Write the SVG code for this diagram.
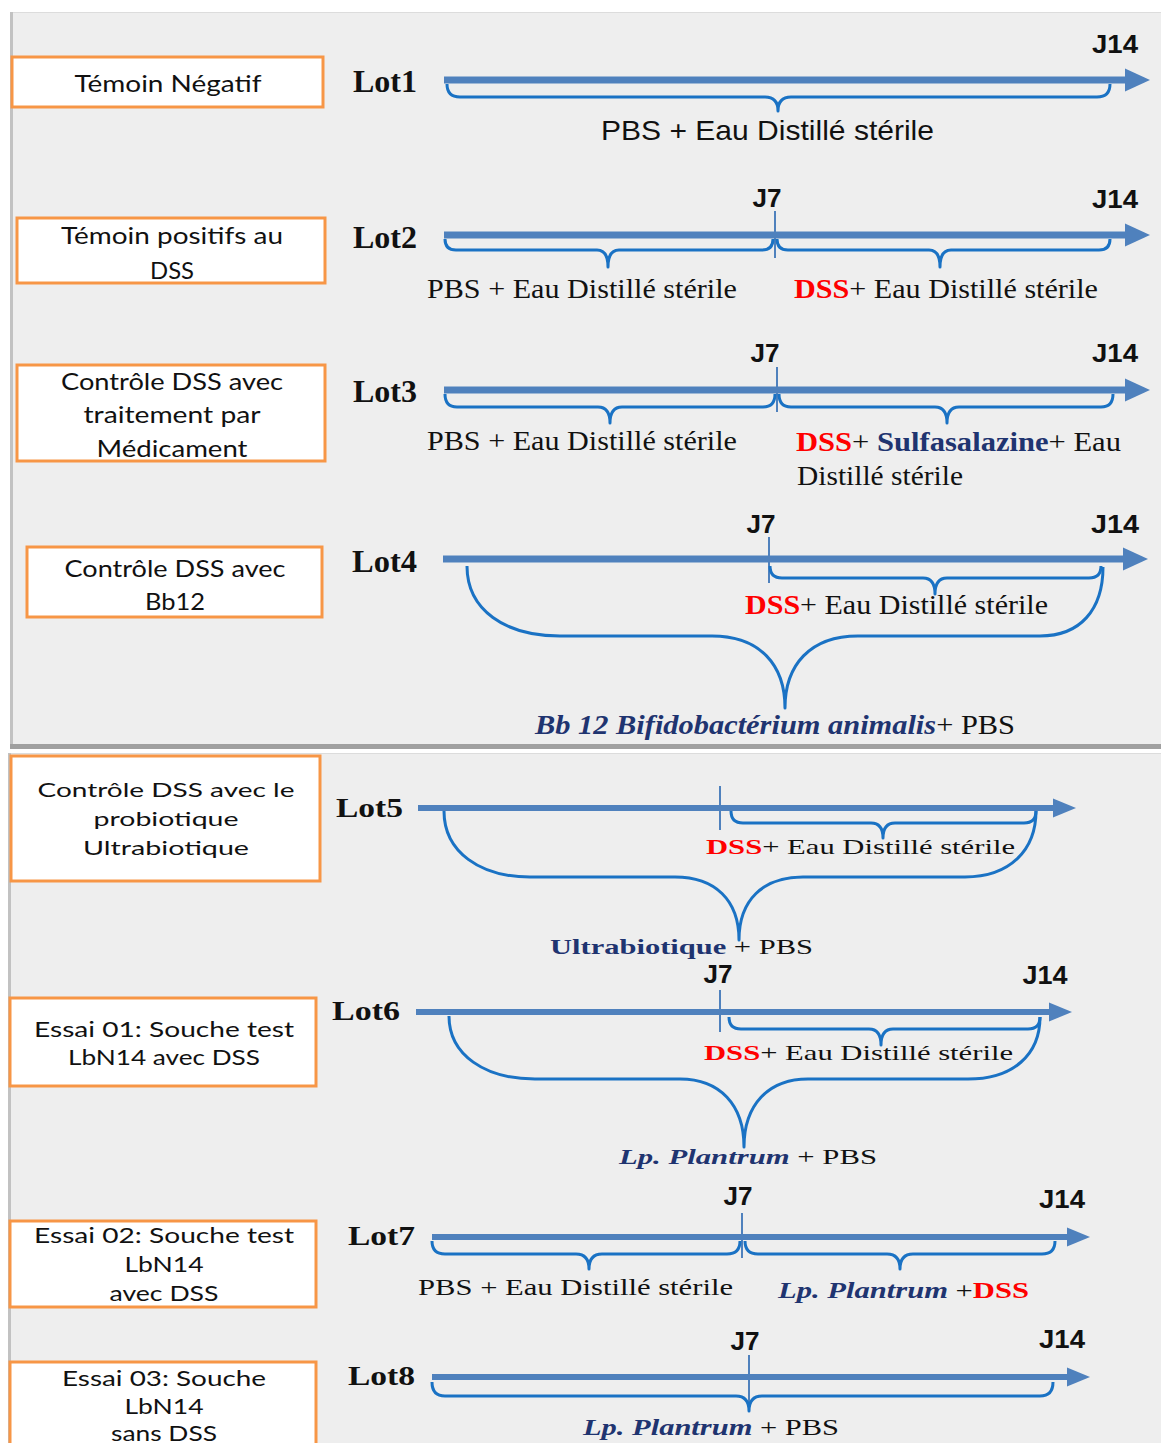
<svg xmlns="http://www.w3.org/2000/svg" width="1161" height="1443" viewBox="0 0 1161 1443">
<defs>
<style>
.box{fill:#ffffff;stroke:#f79646;stroke-width:3}
.bt{font-family:Lato,"Open Sans",sans-serif;fill:#111;text-anchor:middle}
.lot{font-family:"Liberation Serif","Times New Roman",serif;font-weight:bold;fill:#111}
.tm{font-family:"Liberation Serif","Times New Roman",serif;fill:#111}
.ar{font-family:"Liberation Sans",Arial,sans-serif;fill:#111}
.j{font-family:"Liberation Sans",Arial,sans-serif;font-weight:bold;fill:#111;font-size:25px;text-anchor:middle}
.red{fill:#ff0000;font-weight:bold}
.navy{fill:#1f3470;font-weight:bold}
.shaft{stroke:#4f81bd;stroke-width:7;fill:none}
.shaft2{stroke:#4f81bd;stroke-width:6;fill:none}
.tick{stroke:#4f81bd;stroke-width:2;fill:none}
.brace{stroke:#1a72c4;stroke-width:3;fill:none;stroke-linejoin:round}
</style>
<marker id="ah" markerUnits="userSpaceOnUse" markerWidth="26" markerHeight="24" refX="0" refY="12" orient="auto">
<path d="M0,0.5 L25,12 L0,23.5z" fill="#4f81bd"/>
</marker>
<marker id="ah2" markerUnits="userSpaceOnUse" markerWidth="24" markerHeight="20" refX="0" refY="10" orient="auto">
<path d="M0,0.5 L23,10 L0,19.5z" fill="#4f81bd"/>
</marker>
</defs>

<rect x="0" y="0" width="1161" height="1443" fill="#ffffff"/>
<!-- panels -->
<g id="panels">
<rect x="10" y="12" width="1151" height="736" fill="#eeeeee"/>
<line x1="10" y1="12.5" x2="1161" y2="12.5" stroke="#dcdcdc" stroke-width="1"/>
<line x1="11.5" y1="12" x2="11.5" y2="748" stroke="#c2c2c2" stroke-width="3"/>
<rect x="10" y="744" width="1151" height="5" fill="#a0a0a0"/>
<rect x="8" y="753" width="1153" height="690" fill="#eeeeee"/>
<line x1="8" y1="753.5" x2="1161" y2="753.5" stroke="#dcdcdc" stroke-width="1"/>
<line x1="9.5" y1="753" x2="9.5" y2="1443" stroke="#c2c2c2" stroke-width="3"/>
</g>

<!-- nodes -->
<g id="node-temoin-negatif">
<rect class="box" x="12" y="57" width="311" height="50"/>
<text class="bt" x="168" y="92" font-size="24" textLength="187" lengthAdjust="spacingAndGlyphs">Témoin Négatif</text>
</g>
<g id="node-temoin-positif">
<rect class="box" x="17" y="218" width="308" height="65"/>
<text class="bt" x="172" y="244" font-size="24" textLength="222" lengthAdjust="spacingAndGlyphs">Témoin positifs au</text>
<text class="bt" x="172" y="279" font-size="24" textLength="44" lengthAdjust="spacingAndGlyphs">DSS</text>
</g>
<g id="node-controle-medicament">
<rect class="box" x="17" y="365" width="308" height="96"/>
<text class="bt" x="172" y="390" font-size="24" textLength="222" lengthAdjust="spacingAndGlyphs">Contrôle DSS avec</text>
<text class="bt" x="172" y="423" font-size="24" textLength="177" lengthAdjust="spacingAndGlyphs">traitement par</text>
<text class="bt" x="172" y="457" font-size="24" textLength="151" lengthAdjust="spacingAndGlyphs">Médicament</text>
</g>
<g id="node-controle-bb12">
<rect class="box" x="27" y="547" width="295" height="70"/>
<text class="bt" x="175" y="577" font-size="24" textLength="221" lengthAdjust="spacingAndGlyphs">Contrôle DSS avec</text>
<text class="bt" x="175" y="610" font-size="24" textLength="60" lengthAdjust="spacingAndGlyphs">Bb12</text>
</g>
<g id="node-controle-ultrabiotique">
<rect class="box" x="11" y="756" width="309" height="125"/>
<text class="bt" x="166" y="797" font-size="20" textLength="257" lengthAdjust="spacingAndGlyphs">Contrôle DSS avec le</text>
<text class="bt" x="166" y="826" font-size="20" textLength="145" lengthAdjust="spacingAndGlyphs">probiotique</text>
<text class="bt" x="166" y="855" font-size="20" textLength="166" lengthAdjust="spacingAndGlyphs">Ultrabiotique</text>
</g>
<g id="node-essai01">
<rect class="box" x="10" y="998" width="306" height="88"/>
<text class="bt" x="164" y="1037" font-size="21" textLength="260" lengthAdjust="spacingAndGlyphs">Essai 01: Souche test</text>
<text class="bt" x="164" y="1065" font-size="21" textLength="192" lengthAdjust="spacingAndGlyphs">LbN14 avec DSS</text>
</g>
<g id="node-essai02">
<rect class="box" x="10" y="1221" width="306" height="86"/>
<text class="bt" x="164" y="1243" font-size="21" textLength="260" lengthAdjust="spacingAndGlyphs">Essai 02: Souche test</text>
<text class="bt" x="164" y="1272" font-size="21" textLength="79" lengthAdjust="spacingAndGlyphs">LbN14</text>
<text class="bt" x="164" y="1301" font-size="21" textLength="109" lengthAdjust="spacingAndGlyphs">avec DSS</text>
</g>
<g id="node-essai03">
<rect class="box" x="10" y="1362" width="306" height="90"/>
<text class="bt" x="164" y="1386" font-size="21" textLength="204" lengthAdjust="spacingAndGlyphs">Essai 03: Souche</text>
<text class="bt" x="164" y="1414" font-size="21" textLength="79" lengthAdjust="spacingAndGlyphs">LbN14</text>
<text class="bt" x="164" y="1441" font-size="21" textLength="106" lengthAdjust="spacingAndGlyphs">sans DSS</text>
</g>

<!-- lot labels -->
<g id="lot-labels">
<text class="lot" x="353" y="92" font-size="32" textLength="64" lengthAdjust="spacingAndGlyphs">Lot1</text>
<text class="lot" x="353" y="248" font-size="32" textLength="64" lengthAdjust="spacingAndGlyphs">Lot2</text>
<text class="lot" x="353" y="402" font-size="32" textLength="64" lengthAdjust="spacingAndGlyphs">Lot3</text>
<text class="lot" x="352" y="572" font-size="32" textLength="65" lengthAdjust="spacingAndGlyphs">Lot4</text>
<text class="lot" x="336" y="817" font-size="27" textLength="67" lengthAdjust="spacingAndGlyphs">Lot5</text>
<text class="lot" x="332" y="1020" font-size="27" textLength="68" lengthAdjust="spacingAndGlyphs">Lot6</text>
<text class="lot" x="348" y="1245" font-size="27" textLength="67" lengthAdjust="spacingAndGlyphs">Lot7</text>
<text class="lot" x="348" y="1385" font-size="27" textLength="67" lengthAdjust="spacingAndGlyphs">Lot8</text>
</g>

<!-- connectors: timelines, ticks, braces -->
<g id="connectors">
<line class="shaft" x1="444" y1="80" x2="1125" y2="80" marker-end="url(#ah)"/>
<line class="shaft" x1="444" y1="235" x2="1125" y2="235" marker-end="url(#ah)"/>
<line class="shaft" x1="444" y1="390" x2="1125" y2="390" marker-end="url(#ah)"/>
<line class="shaft" x1="443" y1="559" x2="1123" y2="559" marker-end="url(#ah)"/>
<line class="shaft2" x1="418" y1="808" x2="1053" y2="808" marker-end="url(#ah2)"/>
<line class="shaft2" x1="416" y1="1012" x2="1049" y2="1012" marker-end="url(#ah2)"/>
<line class="shaft2" x1="432" y1="1237" x2="1067" y2="1237" marker-end="url(#ah2)"/>
<line class="shaft2" x1="432" y1="1377" x2="1067" y2="1377" marker-end="url(#ah2)"/>

<line class="tick" x1="775" y1="211" x2="775" y2="258"/>
<line class="tick" x1="777" y1="367" x2="777" y2="412"/>
<line class="tick" x1="769" y1="537" x2="769" y2="583"/>
<line class="tick" x1="720" y1="786" x2="720" y2="830"/>
<line class="tick" x1="720" y1="990" x2="720" y2="1032"/>
<line class="tick" x1="742" y1="1213" x2="742" y2="1258"/>
<line class="tick" x1="749" y1="1355" x2="749" y2="1408"/>

<!-- Lot1 -->
<path class="brace" d="M447,84 Q447,97 460,97 L765,97 Q778,97 778,111 Q778,97 791,97 L1097,97 Q1110,97 1110,84"/>
<!-- Lot2 -->
<path class="brace" d="M445,239 Q445,250 456,250 L597,250 Q608,250 608,267 Q608,250 619,250 L762,250 Q773,250 773,239"/>
<path class="brace" d="M777,239 Q777,250 788,250 L929,250 Q940,250 940,267 Q940,250 951,250 L1099,250 Q1110,250 1110,239"/>
<!-- Lot3 -->
<path class="brace" d="M445,394 Q445,407 457,407 L598,407 Q610,407 610,423 Q610,407 622,407 L763,407 Q775,407 775,394"/>
<path class="brace" d="M779,394 Q779,407 791,407 L935,407 Q947,407 947,423 Q947,407 959,407 L1101,407 Q1113,407 1113,394"/>
<!-- Lot4 -->
<path class="brace" d="M770,566 Q770,578 782,578 L923,578 Q935,578 935,594 Q935,578 947,578 L1089,578 Q1101,578 1101,566"/>
<path class="brace" d="M467,566 C467,610 505,636 560,636 L712,636 C760,636 785,665 785,708 C785,665 810,636 858,636 L1040,636 C1080,636 1103,610 1103,567"/>
<!-- Lot5 -->
<path class="brace" d="M731,811 Q731,823 743,823 L871,823 Q883,823 883,838 Q883,823 895,823 L1024,823 Q1036,823 1036,811"/>
<path class="brace" d="M444,811 C444,852 480,877 530,877 L675,877 C715,877 739,900 739,940 C739,900 763,877 803,877 L965,877 C1010,877 1036,850 1036,811"/>
<!-- Lot6 -->
<path class="brace" d="M729,1017 Q729,1029 741,1029 L869,1029 Q881,1029 881,1045 Q881,1029 893,1029 L1028,1029 Q1040,1029 1040,1017"/>
<path class="brace" d="M449,1016 C449,1055 485,1079 535,1079 L680,1079 C720,1079 744,1105 744,1147 C744,1105 768,1079 808,1079 L968,1079 C1013,1079 1040,1055 1040,1017"/>
<!-- Lot7 -->
<path class="brace" d="M432,1241 Q432,1254 445,1254 L576,1254 Q589,1254 589,1269 Q589,1254 602,1254 L727,1254 Q740,1254 740,1241"/>
<path class="brace" d="M745,1241 Q745,1254 758,1254 L887,1254 Q900,1254 900,1269 Q900,1254 913,1254 L1042,1254 Q1055,1254 1055,1241"/>
<!-- Lot8 -->
<path class="brace" d="M432,1382 Q432,1396 445,1396 L736,1396 Q749,1396 749,1411 Q749,1396 762,1396 L1040,1396 Q1053,1396 1053,1382"/>
</g>

<!-- day labels -->
<g id="day-labels">
<text class="j" x="1115" y="53" textLength="46" lengthAdjust="spacingAndGlyphs">J14</text>
<text class="j" x="767" y="207" textLength="29" lengthAdjust="spacingAndGlyphs">J7</text>
<text class="j" x="1115" y="208" textLength="46" lengthAdjust="spacingAndGlyphs">J14</text>
<text class="j" x="765" y="362" textLength="29" lengthAdjust="spacingAndGlyphs">J7</text>
<text class="j" x="1115" y="362" textLength="46" lengthAdjust="spacingAndGlyphs">J14</text>
<text class="j" x="761" y="533" textLength="29" lengthAdjust="spacingAndGlyphs">J7</text>
<text class="j" x="1115" y="533" textLength="48" lengthAdjust="spacingAndGlyphs">J14</text>
<text class="j" x="718" y="983" textLength="29" lengthAdjust="spacingAndGlyphs">J7</text>
<text class="j" x="1045" y="984" textLength="45" lengthAdjust="spacingAndGlyphs">J14</text>
<text class="j" x="738" y="1205" textLength="29" lengthAdjust="spacingAndGlyphs">J7</text>
<text class="j" x="1062" y="1208" textLength="46" lengthAdjust="spacingAndGlyphs">J14</text>
<text class="j" x="745" y="1350" textLength="29" lengthAdjust="spacingAndGlyphs">J7</text>
<text class="j" x="1062" y="1348" textLength="46" lengthAdjust="spacingAndGlyphs">J14</text>
</g>

<!-- treatment labels -->
<g id="treatment-labels">
<text class="ar" x="601" y="140" font-size="28" textLength="333" lengthAdjust="spacingAndGlyphs">PBS + Eau Distillé stérile</text>

<text class="tm" x="427" y="298" font-size="28" textLength="310" lengthAdjust="spacingAndGlyphs">PBS + Eau Distillé stérile</text>
<text class="tm" x="794" y="298" font-size="28" textLength="304" lengthAdjust="spacingAndGlyphs"><tspan class="red">DSS</tspan>+ Eau Distillé stérile</text>

<text class="tm" x="427" y="450" font-size="28" textLength="310" lengthAdjust="spacingAndGlyphs">PBS + Eau Distillé stérile</text>
<text class="tm" x="796" y="451" font-size="28" textLength="325" lengthAdjust="spacingAndGlyphs"><tspan class="red">DSS</tspan>+ <tspan class="navy">Sulfasalazine</tspan>+ Eau</text>
<text class="tm" x="797" y="485" font-size="28" textLength="166" lengthAdjust="spacingAndGlyphs">Distillé stérile</text>

<text class="tm" x="745" y="614" font-size="28" textLength="303" lengthAdjust="spacingAndGlyphs"><tspan class="red">DSS</tspan>+ Eau Distillé stérile</text>
<text class="tm" x="535" y="734" font-size="28" textLength="480" lengthAdjust="spacingAndGlyphs"><tspan class="navy" font-style="italic">Bb 12 Bifidobactérium animalis</tspan>+ PBS</text>

<text class="tm" x="706" y="854" font-size="22" textLength="309" lengthAdjust="spacingAndGlyphs"><tspan class="red">DSS</tspan>+ Eau Distillé stérile</text>
<text class="tm" x="550" y="954" font-size="22" textLength="263" lengthAdjust="spacingAndGlyphs"><tspan class="navy">Ultrabiotique</tspan> + PBS</text>

<text class="tm" x="704" y="1060" font-size="22" textLength="309" lengthAdjust="spacingAndGlyphs"><tspan class="red">DSS</tspan>+ Eau Distillé stérile</text>
<text class="tm" x="619" y="1164" font-size="22" textLength="258" lengthAdjust="spacingAndGlyphs"><tspan class="navy" font-style="italic">Lp. Plantrum</tspan> + PBS</text>

<text class="tm" x="418" y="1295" font-size="23" textLength="315" lengthAdjust="spacingAndGlyphs">PBS + Eau Distillé stérile</text>
<text class="tm" x="778" y="1298" font-size="23" textLength="251" lengthAdjust="spacingAndGlyphs"><tspan class="navy" font-style="italic">Lp. Plantrum</tspan> +<tspan class="red">DSS</tspan></text>

<text class="tm" x="583" y="1435" font-size="23" textLength="256" lengthAdjust="spacingAndGlyphs"><tspan class="navy" font-style="italic">Lp. Plantrum</tspan> + PBS</text>
</g>
</svg>
